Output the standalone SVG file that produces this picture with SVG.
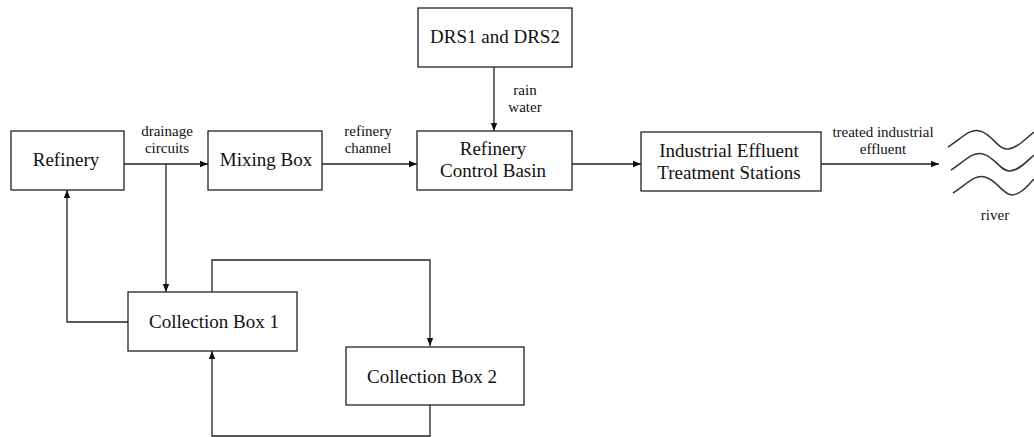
<svg xmlns="http://www.w3.org/2000/svg" width="1034" height="437" viewBox="0 0 1034 437">
<style>
.box{fill:#fff;stroke:#222;stroke-width:1.3}
text{font-family:'Liberation Serif','Times New Roman',serif;fill:#111;text-anchor:middle}
.t{font-size:19px}
.l{font-size:15px}
.c{fill:none;stroke:#222;stroke-width:1.3}
.w{fill:none;stroke:#333;stroke-width:1.5}
</style>
<defs>
<marker id="a" viewBox="0 0 10 10" refX="10" refY="5" markerWidth="8" markerHeight="8" markerUnits="userSpaceOnUse" orient="auto">
<path d="M0,1 L10,5 L0,9 z" fill="#111"/>
</marker>
</defs>
<rect width="1034" height="437" fill="#fff"/>
<g id="connectors">
<path class="c" d="M124,164 H208" marker-end="url(#a)"/>
<path class="c" d="M166,164 V292" marker-end="url(#a)"/>
<path class="c" d="M322,164 H417" marker-end="url(#a)"/>
<path class="c" d="M494,67 V131" marker-end="url(#a)"/>
<path class="c" d="M572,164 H641" marker-end="url(#a)"/>
<path class="c" d="M821,164 H939" marker-end="url(#a)"/>
<path class="c" d="M128,322 H67 V190" marker-end="url(#a)"/>
<path class="c" d="M212,292 V260 H430 V346" marker-end="url(#a)"/>
<path class="c" d="M430,405 V436 H212 V351" marker-end="url(#a)"/>
<text class="l" x="167" y="136">drainage</text>
<text class="l" x="167" y="153">circuits</text>
<text class="l" x="368" y="136">refinery</text>
<text class="l" x="368" y="153">channel</text>
<text class="l" x="525" y="95">rain</text>
<text class="l" x="525" y="112">water</text>
<text class="l" x="883" y="137">treated industrial</text>
<text class="l" x="883" y="154">effluent</text>
</g>
<g id="refinery">
<rect class="box" x="11" y="131" width="113" height="59"/>
<text class="t" x="66" y="166">Refinery</text>
</g>
<g id="mixing-box">
<rect class="box" x="208" y="131" width="114" height="59"/>
<text class="t" x="266" y="166">Mixing Box</text>
</g>
<g id="drs">
<rect class="box" x="418" y="8" width="154" height="59"/>
<text class="t" x="495" y="43">DRS1 and DRS2</text>
</g>
<g id="control-basin">
<rect class="box" x="417" y="131" width="155" height="59"/>
<text class="t" x="493" y="155">Refinery</text>
<text class="t" x="493" y="177">Control Basin</text>
</g>
<g id="iets">
<rect class="box" x="641" y="132" width="180" height="59"/>
<text class="t" x="729" y="157">Industrial Effluent</text>
<text class="t" x="729" y="179">Treatment Stations</text>
</g>
<g id="collection-box-1">
<rect class="box" x="128" y="292" width="169" height="59"/>
<text class="t" x="214" y="328">Collection Box 1</text>
</g>
<g id="collection-box-2">
<rect class="box" x="346" y="347" width="178" height="58"/>
<text class="t" x="432" y="383">Collection Box 2</text>
</g>
<g id="river">
<path class="w" d="M948,147 C962,138 970,128 980,131 C992,134 998,150 1008,149 C1018,148 1026,138 1034,132"/>
<path class="w" d="M951,170 C965,161 973,151 983,154 C995,157 1001,172 1010,171 C1020,170 1028,160 1034,155"/>
<path class="w" d="M953,193 C967,184 975,174 985,177 C997,180 1003,195 1012,195 C1022,194 1029,184 1034,179"/>
<text class="l" x="995" y="220">river</text>
</g>
</svg>
